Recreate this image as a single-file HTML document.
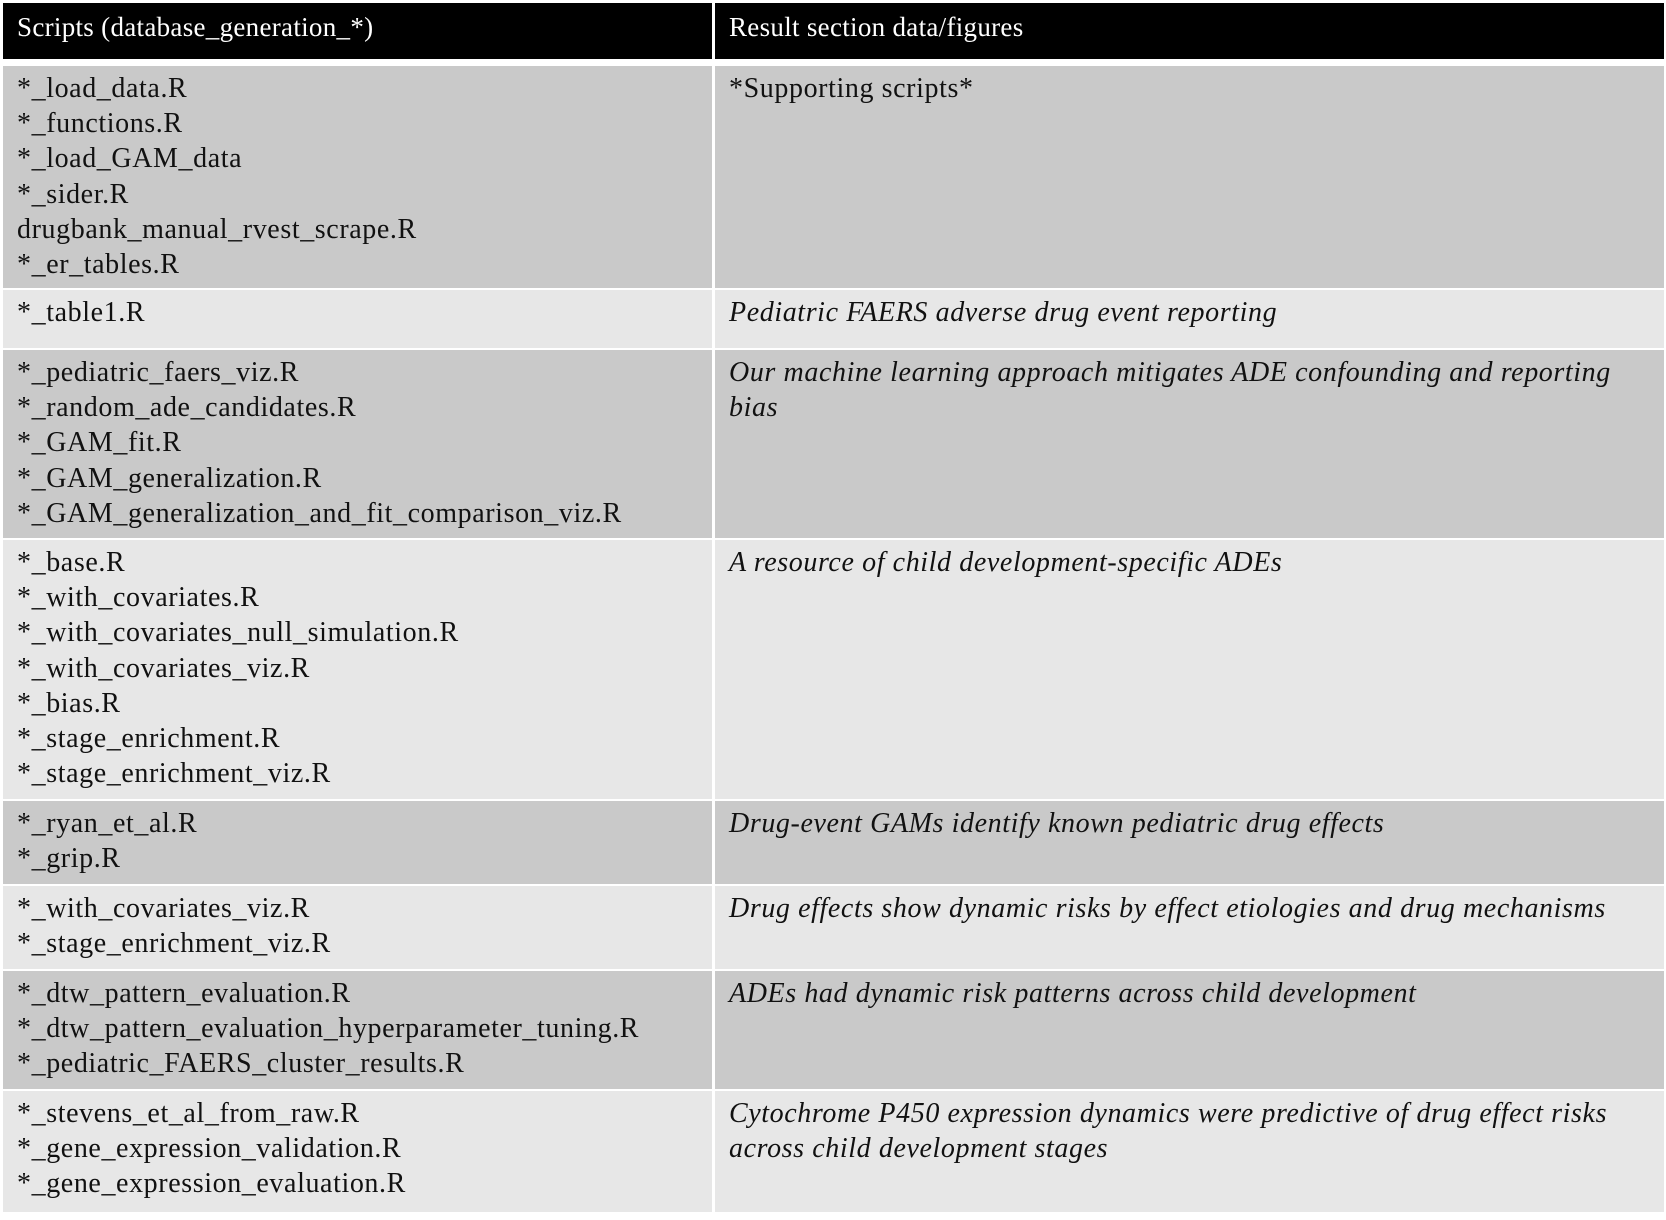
<!DOCTYPE html>
<html><head><meta charset="utf-8"><style>
body{margin:0;width:1666px;height:1220px;background:#fff;position:relative;overflow:hidden;font-family:"Liberation Serif","Times New Roman","Noto Serif CJK SC",serif;}
.c{position:absolute;box-sizing:border-box;padding:5px 0 0 14px;font-size:28px;line-height:35.2px;color:#111;white-space:pre;letter-spacing:0.6px;}
.h{background:#000;color:#fff;font-size:27px;padding-top:7px;letter-spacing:0.3px;}
.d{background:#c9c9c9}.l{background:#e7e7e7}
.i{font-style:italic}
</style></head><body>
<div class="c h" style="left:3px;top:3px;width:709px;height:56px">Scripts (database_generation_*)</div>
<div class="c h" style="left:715px;top:3px;width:949px;height:56px">Result section data/figures</div>

<div class="c d" style="left:3px;top:66px;width:709px;height:222px">*_load_data.R
*_functions.R
*_load_GAM_data
*_sider.R
drugbank_manual_rvest_scrape.R
*_er_tables.R</div>
<div class="c d" style="left:715px;top:66px;width:949px;height:222px">*Supporting scripts*</div>

<div class="c l" style="left:3px;top:290px;width:709px;height:58px">*_table1.R</div>
<div class="c l i" style="left:715px;top:290px;width:949px;height:58px">Pediatric FAERS adverse drug event reporting</div>

<div class="c d" style="left:3px;top:350px;width:709px;height:188px">*_pediatric_faers_viz.R
*_random_ade_candidates.R
*_GAM_fit.R
*_GAM_generalization.R
*_GAM_generalization_and_fit_comparison_viz.R</div>
<div class="c d i" style="left:715px;top:350px;width:949px;height:188px">Our machine learning approach mitigates ADE confounding and reporting
bias</div>

<div class="c l" style="left:3px;top:540px;width:709px;height:259px">*_base.R
*_with_covariates.R
*_with_covariates_null_simulation.R
*_with_covariates_viz.R
*_bias.R
*_stage_enrichment.R
*_stage_enrichment_viz.R</div>
<div class="c l i" style="left:715px;top:540px;width:949px;height:259px">A resource of child development-specific ADEs</div>

<div class="c d" style="left:3px;top:801px;width:709px;height:83px">*_ryan_et_al.R
*_grip.R</div>
<div class="c d i" style="left:715px;top:801px;width:949px;height:83px">Drug-event GAMs identify known pediatric drug effects</div>

<div class="c l" style="left:3px;top:886px;width:709px;height:83px">*_with_covariates_viz.R
*_stage_enrichment_viz.R</div>
<div class="c l i" style="left:715px;top:886px;width:949px;height:83px">Drug effects show dynamic risks by effect etiologies and drug mechanisms</div>

<div class="c d" style="left:3px;top:971px;width:709px;height:118px">*_dtw_pattern_evaluation.R
*_dtw_pattern_evaluation_hyperparameter_tuning.R
*_pediatric_FAERS_cluster_results.R</div>
<div class="c d i" style="left:715px;top:971px;width:949px;height:118px">ADEs had dynamic risk patterns across child development</div>

<div class="c l" style="left:3px;top:1091px;width:709px;height:121px">*_stevens_et_al_from_raw.R
*_gene_expression_validation.R
*_gene_expression_evaluation.R</div>
<div class="c l i" style="left:715px;top:1091px;width:949px;height:121px">Cytochrome P450 expression dynamics were predictive of drug effect risks
across child development stages</div>
</body></html>
